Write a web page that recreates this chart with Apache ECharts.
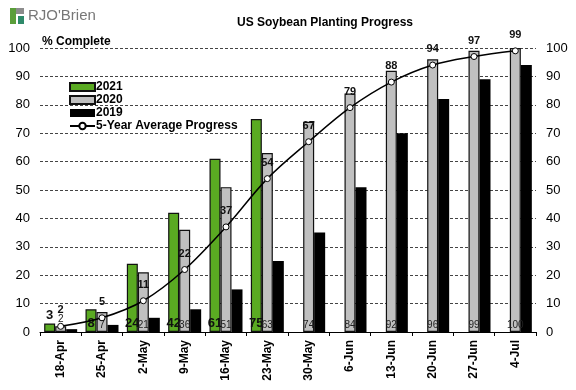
<!DOCTYPE html>
<html><head><meta charset="utf-8">
<script src="https://cdn.jsdelivr.net/npm/echarts@6/dist/echarts.min.js"></script>
<style>html,body{margin:0;padding:0;background:#fff}#c{width:576px;height:390px}</style>
</head><body><div id="c"></div>
<script>
var categories = ['18-Apr','25-Apr','2-May','9-May','16-May','23-May','30-May','6-Jun','13-Jun','20-Jun','27-Jun','4-Jul'];
var y2021 = [3, 8, 24, 42, 61, 75, null, null, null, null, null, null];
var y2020 = [2, 7, 21, 36, 51, 63, 74, 84, 92, 96, 99, 100];
var y2019 = [1, 2.5, 5, 8, 15, 25, 35, 51, 70, 82, 89, 94];
var avg5 = [2, 5, 11, 22, 37, 54, 67, 79, 88, 94, 97, 99];
var yTicks = [0, 10, 20, 30, 40, 50, 60, 70, 80, 90, 100];

var FONT = 'Liberation Sans, Arial, sans-serif';
var chart = echarts.init(document.getElementById('c'));

function d2021() {
  return y2021.map(function (v, i) {
    if (v !== null && v < 5) return { value: v, label: { position: 'top' } };
    return v;
  });
}
function d2020() {
  return y2020.map(function (v, i) {
    if (v < 5) return { value: v, label: { position: 'top' } };
    return v;
  });
}

var yAxisCommon = {
  type: 'value', min: yTicks[0], max: yTicks[yTicks.length - 1], interval: 10,
  axisLine: { show: false }, axisTick: { show: false },
  axisLabel: { fontFamily: FONT, fontSize: 13, color: '#000', margin: 10 },
};

chart.setOption({
  animation: false,
  textStyle: { fontFamily: FONT },
  title: {
    text: 'US Soybean Planting Progress', left: 320, top: 12, textAlign: 'center',
    textStyle: { fontFamily: FONT, fontSize: 12, fontWeight: 'bold', color: '#000' }
  },
  graphic: [
    { type: 'rect', shape: { x: 10, y: 8, width: 6, height: 16 }, style: { fill: '#5a9e3a' } },
    { type: 'rect', shape: { x: 16, y: 8, width: 8, height: 6 }, style: { fill: '#8c8c8c' } },
    { type: 'rect', shape: { x: 18, y: 16, width: 6, height: 8 }, style: { fill: '#2f8a6a' } },
    { type: 'text', left: 28, top: 8, style: { text: "RJO'Brien", fontFamily: FONT, fontSize: 15, fill: '#777' } },
    { type: 'text', left: 42, top: 36, style: { text: '% Complete', fontFamily: FONT, fontSize: 12, fontWeight: 'bold', fill: '#000' } }
  ],
  legend: {
    left: 64, top: 76, orient: 'vertical', itemGap: 1,
    itemWidth: 25, itemHeight: 8,
    textStyle: { fontFamily: FONT, fontSize: 12, fontWeight: 'bold', color: '#000', padding: [0, 0, 0, -4] },
    data: [
      { name: '2021', icon: 'rect' },
      { name: '2020', icon: 'rect' },
      { name: '2019', icon: 'rect' },
      { name: '5-Year Average Progress' }
    ]
  },
  grid: { left: 40, right: 40, top: 48, bottom: 58 },
  xAxis: {
    type: 'category', data: categories,
    axisLine: { lineStyle: { color: '#000', width: 1 } },
    axisTick: { show: true, length: 4, lineStyle: { color: '#000' } },
    axisLabel: { rotate: 90, fontFamily: FONT, fontSize: 12, fontWeight: 'bold', color: '#000', margin: 8 }
  },
  yAxis: [
    Object.assign({}, yAxisCommon, {
      position: 'left',
      splitLine: { show: true, lineStyle: { color: '#444', type: [3, 2], width: 1 } }
    }),
    Object.assign({}, yAxisCommon, { position: 'right', splitLine: { show: false } })
  ],
  series: [
    {
      name: '2021', type: 'bar', data: d2021(), barWidth: 11, barGap: '0%',
      itemStyle: { color: '#5aaa22', borderColor: '#111', borderWidth: 1.2 },
      label: { show: true, position: 'insideBottom', distance: 2, fontFamily: FONT, fontSize: 13, fontWeight: 'bold', color: '#111' }
    },
    {
      name: '2020', type: 'bar', data: d2020(), barWidth: 11, barGap: '0%',
      itemStyle: { color: '#c0c0c0', borderColor: '#111', borderWidth: 1.2 },
      label: { show: true, position: 'insideBottom', distance: 2, fontFamily: FONT, fontSize: 10, color: '#222' }
    },
    {
      name: '2019', type: 'bar', data: y2019, barWidth: 11, barGap: '0%',
      itemStyle: { color: '#000', borderColor: '#000', borderWidth: 0 }
    },
    {
      name: '5-Year Average Progress', type: 'line', data: avg5, smooth: 0.35,
      symbol: 'circle', symbolSize: 6, z: 5,
      lineStyle: { color: '#000', width: 1.5 },
      itemStyle: { color: '#fff', borderColor: '#000', borderWidth: 1 },
      label: { show: true, position: 'top', distance: 7, fontFamily: FONT, fontSize: 11, fontWeight: 'bold', color: '#111' }
    }
  ]
});
</script></body></html>
